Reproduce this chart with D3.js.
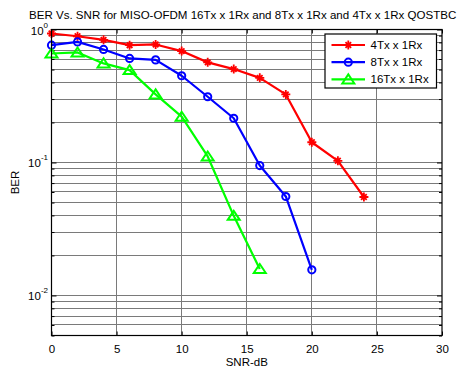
<!DOCTYPE html>
<html>
<head>
<meta charset="utf-8">
<script src="https://cdn.jsdelivr.net/npm/d3@7"></script>
<style>
  body { margin: 0; background: #fff; }
  svg { font-family: 'Liberation Sans', Arial, sans-serif; }
</style>
</head>
<body>
<svg id="chart" width="460" height="368"></svg>
<script>
var snr4 = [0, 2, 4, 6, 8, 10, 12, 14, 16, 18, 20, 22, 24];
var ber4 = [0.933, 0.89, 0.836, 0.762, 0.772, 0.688, 0.566, 0.504, 0.433, 0.325, 0.142, 0.103, 0.055];

var snr8 = [0, 2, 4, 6, 8, 10, 12, 14, 16, 18, 20];
var ber8 = [0.762, 0.807, 0.708, 0.606, 0.591, 0.449, 0.312, 0.215, 0.0948, 0.0555, 0.0156];

var snr16 = [0, 2, 4, 6, 8, 10, 12, 14, 16];
var ber16 = [0.66, 0.672, 0.556, 0.495, 0.325, 0.221, 0.111, 0.0397, 0.0158];

var xTicks = [0, 5, 10, 15, 20, 25, 30];
var yTicks = [1, 0.1, 0.01];
var yExp = ['0', '-1', '-2'];

var titleText = 'BER Vs. SNR for MISO-OFDM 16Tx x 1Rx and 8Tx x 1Rx and 4Tx x 1Rx QOSTBC';

function chart(id) {

  var svg = d3.select('#' + id),
      margin = { top: 29.5, right: 18, bottom: 32.5, left: 51.5 },
      width = +svg.attr('width') - margin.left - margin.right,
      height = +svg.attr('height') - margin.top - margin.bottom,
      g = svg.append('g').attr('transform', 'translate(' + margin.left + ',' + margin.top + ')');

  var fs = 11.5;

  var x = d3.scaleLinear().domain([0, 30]).range([0, width]);
  var y = d3.scaleLog().domain([0.005, 1]).range([height, 0]);

  // minor values for log grid
  var minor = [];
  [0.001, 0.01, 0.1].forEach(function (d) {
    for (var k = 2; k <= 9; k++) {
      var v = d * k;
      if (v >= 0.005 && v < 1) minor.push(v);
    }
  });

  // grid
  var grid = g.append('g').attr('stroke', '#7a7a7a').attr('stroke-width', 1).attr('shape-rendering', 'crispEdges');
  grid.selectAll('.gx').data(xTicks.slice(1, -1)).enter().append('line')
      .attr('x1', function (d) { return x(d); }).attr('x2', function (d) { return x(d); })
      .attr('y1', 0).attr('y2', height);
  grid.selectAll('.gy').data(yTicks.concat(minor)).enter().append('line')
      .attr('x1', 0).attr('x2', width)
      .attr('y1', function (d) { return y(d); }).attr('y2', function (d) { return y(d); });

  // axes (box with inward ticks)
  g.append('g').attr('transform', 'translate(0,' + height + ')')
      .call(d3.axisBottom(x).tickValues(xTicks).tickSizeInner(-4).tickSizeOuter(0).tickPadding(9))
      .call(function (a) { a.select('.domain').remove(); a.selectAll('text').attr('font-size', fs).attr('fill', '#000').attr('font-family', null); });
  g.append('g')
      .call(d3.axisTop(x).tickValues(xTicks).tickSizeInner(-4).tickSizeOuter(0).tickFormat(''))
      .call(function (a) { a.select('.domain').remove(); });

  g.append('g')
      .call(d3.axisLeft(y).tickValues(yTicks).tickSizeInner(-5).tickSizeOuter(0).tickFormat(''))
      .call(function (a) { a.select('.domain').remove(); });
  g.append('g')
      .call(d3.axisLeft(y).tickValues(minor).tickSizeInner(-3).tickSizeOuter(0).tickFormat(''))
      .call(function (a) { a.select('.domain').remove(); });
  g.append('g').attr('transform', 'translate(' + width + ',0)')
      .call(d3.axisRight(y).tickValues(yTicks).tickSizeInner(-5).tickSizeOuter(0).tickFormat(''))
      .call(function (a) { a.select('.domain').remove(); });
  g.append('g').attr('transform', 'translate(' + width + ',0)')
      .call(d3.axisRight(y).tickValues(minor).tickSizeInner(-3).tickSizeOuter(0).tickFormat(''))
      .call(function (a) { a.select('.domain').remove(); });

  g.selectAll('.tick line').attr('stroke', '#000');

  // y tick labels 10^n
  var lab = g.append('g').attr('font-size', fs).attr('text-anchor', 'end');
  yTicks.forEach(function (d, i) {
    var t = lab.append('text').attr('x', -3.5).attr('y', y(d) + 5);
    t.append('tspan').text('10');
    t.append('tspan').attr('dy', -7).attr('font-size', 8).text(yExp[i]);
  });

  // series
  var series = [
    { name: '4Tx x 1Rx', xs: snr4, ys: ber4, color: '#ff0000', marker: 'star' },
    { name: '8Tx x 1Rx', xs: snr8, ys: ber8, color: '#0000ff', marker: 'circle' },
    { name: '16Tx x 1Rx', xs: snr16, ys: ber16, color: '#00ff00', marker: 'tri' }
  ];

  var line = d3.line()
      .x(function (d) { return x(d[0]); })
      .y(function (d) { return y(d[1]); });

  function marker(sel, type, color) {
    if (type === 'circle') {
      sel.append('circle').attr('r', 3.6).attr('fill', 'none').attr('stroke', color).attr('stroke-width', 2);
    } else if (type === 'tri') {
      sel.append('path').attr('d', 'M0,-5L6,4L-6,4Z').attr('fill', 'none').attr('stroke', color).attr('stroke-width', 2);
    } else {
      sel.append('path').attr('d', 'M-4.5,0H4.5M0,-4.5V4.5M-2.8,-2.8L2.8,2.8M-2.8,2.8L2.8,-2.8').attr('stroke', color).attr('stroke-width', 1.8);
    }
  }

  series.forEach(function (s) {
    var pts = s.xs.map(function (d, i) { return [d, s.ys[i]]; });
    g.append('path').datum(pts)
        .attr('fill', 'none').attr('stroke', s.color).attr('stroke-width', 2.2)
        .attr('stroke-linejoin', 'round')
        .attr('d', line);
    g.selectAll(null).data(pts).enter().append('g')
        .attr('transform', function (d) { return 'translate(' + x(d[0]) + ',' + y(d[1]) + ')'; })
        .each(function () { marker(d3.select(this), s.marker, s.color); });
  });

  // box
  g.append('rect').attr('width', width).attr('height', height)
      .attr('fill', 'none').attr('stroke', '#000').attr('stroke-width', 1.2);

  // legend
  var lg = svg.append('g').attr('transform', 'translate(325,34)');
  lg.append('rect').attr('width', 111.5).attr('height', 54)
      .attr('fill', '#fff').attr('stroke', '#000').attr('stroke-width', 1.2);
  series.forEach(function (s, i) {
    var row = lg.append('g').attr('transform', 'translate(0,' + (11 + i * 17.2) + ')');
    row.append('line').attr('x1', 6.5).attr('x2', 40).attr('stroke', s.color).attr('stroke-width', 2.2);
    marker(row.append('g').attr('transform', 'translate(23.3,0)'), s.marker, s.color);
    row.append('text').attr('x', 45.5).attr('y', 4).attr('font-size', fs).text(s.name);
  });

  // labels
  svg.append('text').attr('x', 29).attr('y', 19).attr('font-size', 11.55).text(titleText);
  svg.append('text').attr('x', margin.left + width / 2).attr('y', 365.5)
      .attr('text-anchor', 'middle').attr('font-size', fs).text('SNR-dB');
  svg.append('text').attr('transform', 'translate(19,' + (margin.top + height / 2) + ') rotate(-90)')
      .attr('text-anchor', 'middle').attr('font-size', fs).text('BER');
}

chart('chart');
</script>
</body>
</html>
